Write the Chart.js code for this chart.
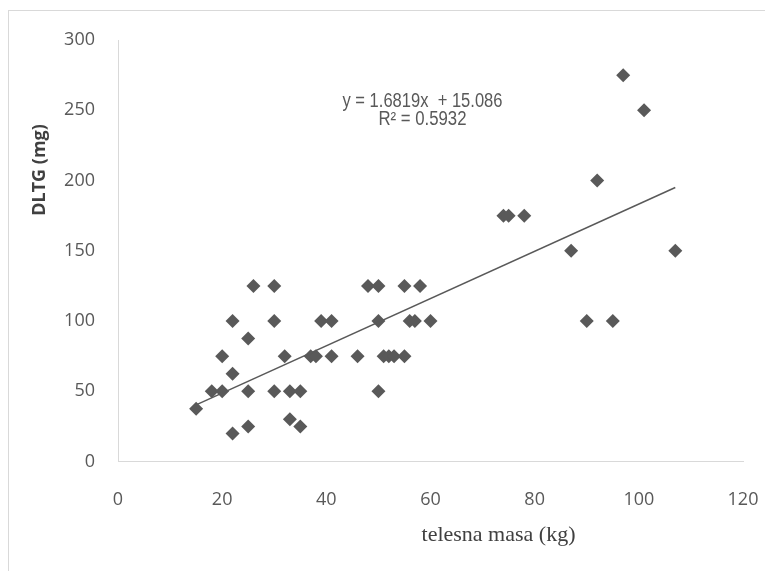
<!DOCTYPE html>
<html>
<head>
<meta charset="utf-8">
<script src="https://cdn.jsdelivr.net/npm/chart.js@4"></script>
<style>
  html, body { margin: 0; padding: 0; background: #fff; }
  #wrap { position: relative; width: 765px; height: 571px; overflow: hidden; }
  #frame { position: absolute; left: 8px; top: 10px; width: 800px; height: 600px;
           border-top: 1px solid #d9d9d9; border-left: 1px solid #d9d9d9; }
  canvas { position: absolute; left: 0; top: 0; }
</style>
</head>
<body>
<div id="wrap">
  <div id="frame"></div>
  <canvas id="chart" width="765" height="571"></canvas>
</div>
<script>
// data
const masa = [15, 18, 20, 20, 22, 22, 22, 25, 25, 25, 26, 30, 30, 30, 32, 33, 33, 35, 35, 37, 38, 39, 41, 41,
              46, 48, 50, 50, 50, 51, 52, 53, 55, 55, 56, 57, 58, 60, 74, 75, 78, 87, 90, 92, 95, 97, 101, 107];
const dltg = [37.5, 50, 50, 75, 62.5, 100, 20, 87.5, 50, 25, 125, 125, 100, 50, 75, 50, 30, 50, 25, 75, 75, 100, 100, 75,
              75, 125, 125, 100, 50, 75, 75, 75, 75, 125, 100, 100, 125, 100, 175, 175, 175, 150, 100, 200, 100, 275, 250, 150];
// linear trendline end points (x = 15 .. 107)
const trendX = [15, 107];
const trendY = [40.3, 195.0];
const xTicks = [0, 20, 40, 60, 80, 100, 120];
const yTicks = [0, 50, 100, 150, 200, 250, 300];
const eqLines = ['y = 1.6819x  + 15.086', 'R\u00b2 = 0.5932'];
const xTitle = 'telesna masa (kg)';
const yTitle = 'DLTG (mg)';

const points = masa.map((x, i) => ({ x: x, y: dltg[i] }));
const trend = trendX.map((x, i) => ({ x: x, y: trendY[i] }));

// draw text squeezed to a target width if needed
function fitText(c, txt, x, y, maxW) {
  const w = c.measureText(txt).width;
  const s = w > maxW ? maxW / w : 1;
  c.save();
  c.translate(x, y);
  c.scale(s, 1);
  c.fillText(txt, 0, 0);
  c.restore();
}

const textPlugin = {
  id: 'texts',
  afterDraw(chart) {
    const c = chart.ctx;
    c.save();
    c.textAlign = 'center';
    c.textBaseline = 'middle';

    // trendline equation
    c.fillStyle = '#595959';
    c.font = '19.5px "Liberation Sans"';
    fitText(c, eqLines[0], 422.5, 102, 160);
    fitText(c, eqLines[1], 422.5, 120, 88);

    // axis titles
    c.fillStyle = '#404040';
    c.font = '22px "Liberation Serif"';
    c.fillText(xTitle, 498.5, 535);

    c.save();
    c.translate(40, 170);
    c.rotate(-Math.PI / 2);
    c.font = 'bold 18px "Open Sans"';
    c.fillText(yTitle, 0, 0);
    c.restore();

    c.restore();
  }
};

const tickFont = { family: '"Open Sans"', size: 18 };

new Chart(document.getElementById('chart').getContext('2d'), {
  type: 'scatter',
  data: {
    datasets: [
      {
        label: 'trend',
        type: 'line',
        data: trend,
        borderColor: '#595959',
        borderWidth: 1.5,
        pointRadius: 0,
        fill: false,
        order: 0
      },
      {
        label: 'DLTG',
        data: points,
        pointStyle: 'rectRot',
        pointRadius: 7,
        backgroundColor: '#595959',
        borderWidth: 0,
        order: 1
      }
    ]
  },
  options: {
    responsive: false,
    animation: false,
    layout: { padding: { top: 40, right: 22, bottom: 0, left: 0 } },
    plugins: { legend: { display: false }, tooltip: { enabled: false } },
    scales: {
      x: {
        type: 'linear',
        min: xTicks[0],
        max: xTicks[xTicks.length - 1],
        afterBuildTicks: (s) => { s.ticks = xTicks.map(v => ({ value: v })); },
        afterFit: (s) => { s.height = 109.5; s.paddingLeft = 0; s.paddingRight = 0; },
        ticks: { color: '#595959', font: tickFont, padding: 28, maxRotation: 0, autoSkip: false },
        grid: { display: false, drawTicks: false },
        border: { display: true, color: '#d9d9d9', width: 1 }
      },
      y: {
        type: 'linear',
        min: yTicks[0],
        max: yTicks[yTicks.length - 1],
        afterBuildTicks: (s) => { s.ticks = yTicks.map(v => ({ value: v })); },
        afterFit: (s) => { s.width = 118; },
        ticks: { color: '#595959', font: tickFont, padding: 23, autoSkip: false },
        grid: { display: false, drawTicks: false },
        border: { display: true, color: '#d9d9d9', width: 1 }
      }
    }
  },
  plugins: [textPlugin]
});
</script>
</body>
</html>
